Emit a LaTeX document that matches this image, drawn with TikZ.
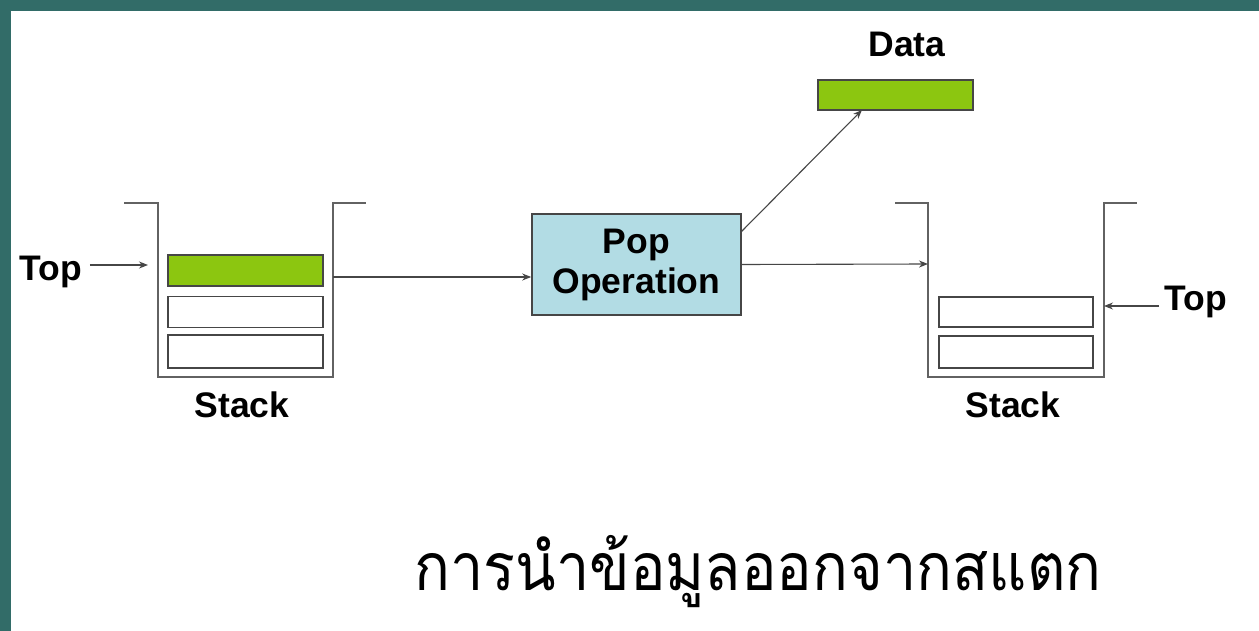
\documentclass[tikz,border=0pt]{standalone}
\usepackage{fontspec}
\setmainfont{Liberation Sans}
\newfontfamily\thaifont[Script=Thai]{Loma}
\usetikzlibrary{arrows.meta}
\definecolor{frame}{RGB}{50,108,104}
\definecolor{lime}{RGB}{140,198,16}
\definecolor{popfill}{RGB}{178,220,228}
\definecolor{edge}{RGB}{70,70,70}
\tikzset{
  wall/.style={draw=edge!85, line width=2pt},
  cell/.style={draw=edge, line width=1.6pt, minimum width=155pt, minimum height=31pt, inner sep=0pt},
  fullcell/.style={cell, fill=lime},
  emptycell/.style={cell, fill=white},
  popbox/.style={draw=edge, line width=1.6pt, fill=popfill, minimum width=209pt, minimum height=101pt, inner sep=0pt, align=center, font=\bfseries\fontsize{35.5}{40}\selectfont},
  lbl/.style={inner sep=0pt, font=\bfseries\fontsize{35.5}{40}\selectfont},
  conn/.style={draw=edge, line width=1.1pt, -{Stealth[length=9pt,width=7pt]}}
}
\begin{document}
\begin{tikzpicture}[x=1pt,y=-1pt]
\useasboundingbox (0,0) rectangle (1259,631);
\fill[frame] (0,0) rectangle (1259,631);
\fill[white] (11,11) rectangle (1259,631);
% left stack
\draw[wall] (124,203) -- (158,203) -- (158,377) -- (333,377) -- (333,203) -- (366,203);
\node[fullcell] (l1) at (245.5,270.5) {};
\node[emptycell] (l2) at (245.5,312) {};
\node[emptycell, minimum height=33pt] (l3) at (245.5,351.5) {};
\node[lbl] (lstack) at (242,405) {Stack};
\node[lbl] (ltop) at (50.5,272) {Top};
\coordinate (lwall) at (148,265);
\draw[conn] (ltop.east) ++(8,-7) coordinate (ltopa) (ltopa) -- (lwall);
% pop operation
\node[popbox] (pop) at (636.5,264.5) {Pop\\Operation};
\coordinate (lsr) at (333,277);
\draw[conn] (lsr) -- (pop.west |- lsr);
% data
\node[fullcell, minimum height=30pt] (data) at (895.5,95) {};
\node[lbl] (dlabel) at (907,44) {Data};
\coordinate (popup) at (741,232);
\coordinate (dbot) at (862,110);
\draw[conn] (popup) -- (dbot);
% right stack
\draw[wall] (895,203) -- (928,203) -- (928,377) -- (1104,377) -- (1104,203) -- (1137,203);
\node[emptycell, minimum width=154pt, minimum height=30pt] (r1) at (1016,312) {};
\node[emptycell, minimum width=154pt, minimum height=32pt] (r2) at (1016,352) {};
\node[lbl] (rstack) at (1013,405) {Stack};
\node[lbl] (rtop) at (1195.5,302) {Top};
\coordinate (rwall) at (928,264);
\draw[conn] (pop.east) -- (rwall);
\coordinate (rwallr) at (1104,306);
\draw[conn] (rtop.west) ++(-5,4) coordinate (rtopa) (rtopa) -- (rwallr);
% caption
\node[inner sep=0pt, xscale=0.9, font=\thaifont\fontsize{66}{70}\selectfont] (cap) at (758,572) {การนำข้อมูลออกจากสแตก};
\end{tikzpicture}
\end{document}
